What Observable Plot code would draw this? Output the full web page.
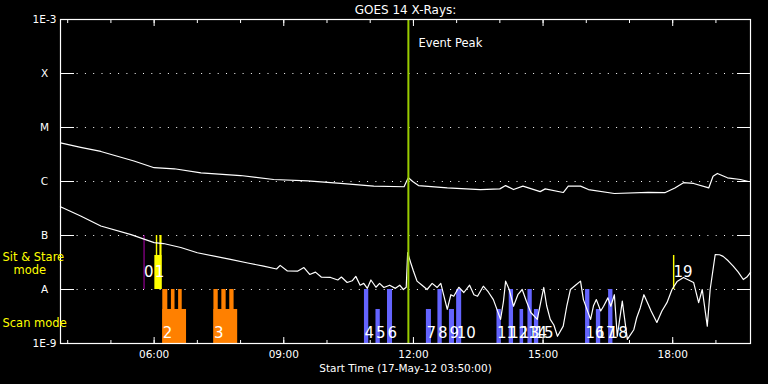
<!DOCTYPE html>
<html><head><meta charset="utf-8">
<script src="https://cdn.jsdelivr.net/npm/d3@7"></script>
<script src="https://cdn.jsdelivr.net/npm/@observablehq/plot@0.6"></script>
<style>
html,body{margin:0;padding:0;background:#000;}
</style></head><body><div id="chart"></div>
<script>
const day = "2012-05-17";
const startTime = "03:50", endTime = "19:48";
const peakTime = "11:53";

// GOES long channel (1-8 A)
const longTimes = ["03:50","04:18","04:46","05:32","06:00","06:28","07:05","08:00","08:46","09:33","10:19","11:05","11:47","11:51","11:53","11:59","12:07","12:47","13:33","14:00","14:08","14:19","14:32","14:56","15:03","15:28","15:35","15:52","16:03","16:39","17:26","17:49","18:03","18:15","18:29","18:50","18:56","19:02","19:16","19:34","19:45"];
const longFlux = [5.2e-6,4.3e-6,3.6e-6,2.4e-6,1.8e-6,1.72e-6,1.45e-6,1.29e-6,1.09e-6,1.03e-6,9.2e-7,8.2e-7,8.0e-7,1.04e-6,1.17e-6,1.0e-6,8.4e-7,7.6e-7,7.1e-7,7.3e-7,8.4e-7,7.1e-7,8.2e-7,6.5e-7,7.3e-7,6.25e-7,8.2e-7,8.2e-7,7.1e-7,6.0e-7,6.3e-7,6.2e-7,7.6e-7,9.5e-7,9.2e-7,7.6e-7,1.25e-6,1.41e-6,1.17e-6,1.09e-6,1.0e-6];

// GOES short channel (0.5-4 A)
const shortTimes = ["03:50","04:18","04:46","05:28","06:00","06:13","06:37","07:00","07:46","08:10","08:32","08:50","08:55","09:05","09:19","09:28","09:36","09:44","09:52","10:05","10:15","10:20","10:28","10:35","10:40","10:46","10:51","10:56","11:01","11:08","11:13","11:19","11:27","11:35","11:41","11:46","11:50","11:52","11:56","12:00","12:05","12:12","12:19","12:26","12:33","12:38","12:43","12:47","12:52","12:56","13:03","13:10","13:18","13:24","13:29","13:37","13:44","13:51","14:01","14:05","14:08","14:13","14:19","14:25","14:31","14:37","14:43","14:52","14:57","15:01","15:05","15:10","15:15","15:20","15:28","15:33","15:38","15:45","15:52","15:56","16:06","16:10","16:14","16:20","16:24","16:30","16:34","16:39","16:43","16:50","16:57","17:06","17:10","17:15","17:20","17:25","17:30","17:38","17:45","17:52","17:59","18:06","18:15","18:22","18:29","18:36","18:41","18:48","18:52","18:59","19:05","19:10","19:17","19:24","19:31","19:38","19:43","19:48"];
const shortFlux = [3.4e-7,2.3e-7,1.5e-7,1.04e-7,7.4e-8,7.1e-8,6.0e-8,4.8e-8,3.6e-8,3.1e-8,2.7e-8,2.4e-8,2.8e-8,2.2e-8,2.18e-8,2.55e-8,1.9e-8,2.1e-8,1.7e-8,1.67e-8,1.5e-8,1.7e-8,1.35e-8,1.45e-8,1.75e-8,1.2e-8,1.3e-8,1.05e-8,1.5e-8,1.1e-8,1.3e-8,1.09e-8,1.2e-8,1.05e-8,1.2e-8,1.0e-8,1.1e-8,4.8e-8,3.2e-8,2.2e-8,1.43e-8,1.2e-8,1.0e-8,1.3e-8,1.09e-8,1.3e-8,7e-9,4.3e-9,8e-9,7.5e-9,1.1e-8,8.8e-9,1.2e-8,8e-9,7.5e-9,1.15e-8,9e-9,6.5e-9,2.8e-9,6e-9,1.43e-8,1.0e-8,4.9e-9,8e-9,1.0e-8,6e-9,3.75e-9,2.8e-9,6e-9,1.09e-8,5e-9,2.8e-9,2.2e-9,1.36e-9,2.1e-9,5e-9,1.0e-8,1.2e-8,1.43e-8,6.5e-9,2.8e-9,5e-9,6.5e-9,4e-9,4.9e-9,7e-9,4.9e-9,8e-9,1.36e-9,6.1e-9,1.19e-9,1.8e-9,3e-9,4.6e-9,8e-9,5.7e-9,4e-9,2.45e-9,4e-9,5.7e-9,1.0e-8,1.4e-8,1.67e-8,1.5e-8,1.35e-8,5.7e-9,1.0e-8,2.1e-9,1.0e-8,4.45e-8,4.4e-8,4.1e-8,3.4e-8,2.7e-8,2.1e-8,1.53e-8,1.7e-8,2.07e-8];

// Observations: start, end, type, coverage
const obsStart = ["05:46","06:01","06:03","06:08","06:12","06:12","06:24","06:34","07:23","07:23","07:34","07:45","10:52","11:08","11:24","12:18","12:34","12:50","13:00","13:56","14:13","14:28","14:39","14:48","15:59","16:14","16:31","18:01"];
const obsEnd   = ["05:46","06:11","06:05","06:11","06:45","06:19","06:29","06:39","07:56","07:29","07:40","07:51","10:58","11:14","11:31","12:25","12:40","12:57","13:07","14:02","14:19","14:33","14:45","14:54","16:05","16:20","16:37","18:03"];
const obsType  = ["other","sit","sit","sit","scan","scan","scan","scan","scan","scan","scan","scan","scanB","scanB","scanB","scanB","scanB","scanB","scanB","scanB","scanB","scanB","scanB","scanB","scanB","scanB","scanB","sit"];
const obsLevel = ["full","partial","full","full","partial","full","full","full","partial","full","full","full","full","partial","full","partial","full","partial","full","partial","full","partial","full","partial","full","partial","full","partial"];

// Observation numbers
const labelText = ["0","1","2","3","4","5","6","7","8","9","10","11","12","13","14","15","16","17","18","19"];
const labelTime = ["05:46","06:01","06:12","07:23","10:52","11:08","11:24","12:18","12:34","12:50","13:00","13:56","14:13","14:28","14:39","14:48","15:59","16:14","16:31","18:01"];
const labelBand = ["sit","sit","scan","scan","scan","scan","scan","scan","scan","scan","scan","scan","scan","scan","scan","scan","scan","scan","scan","sit"];

// Y axis levels
const levelValues = [1e-3,1e-4,1e-5,1e-6,1e-7,1e-8,1e-9];
const levelLabels = ["1E-3","X","M","C","B","A","1E-9"];
const hourTicks = ["04:00","05:00","06:00","07:00","08:00","09:00","10:00","11:00","12:00","13:00","14:00","15:00","16:00","17:00","18:00","19:00"];
const majorTicks = ["06:00","09:00","12:00","15:00","18:00"];

const T = s => new Date(`${day}T${s}:00Z`);

const longData = longTimes.map((t,i)=>({t:T(t), v:longFlux[i]}));
const shortData = shortTimes.map((t,i)=>({t:T(t), v:shortFlux[i]}));

const typeColor = {other:"#b000b0", sit:"#ffff00", scan:"#ff8000", scanB:"#6464ff"};
const typeBand = {other:"sit", sit:"sit", scan:"scan", scanB:"scan"};
const bandBottom = {sit:1e-8, scan:1e-9};
const partialFrac = 0.63;
const obs = obsStart.map((s,i)=>{
  const band = typeBand[obsType[i]];
  const b = bandBottom[band];
  const top = obsLevel[i]==="full" ? b*10 : b*Math.pow(10, partialFrac);
  return {start:T(s), end:T(obsEnd[i]), bottom:b, top, color:typeColor[obsType[i]]};
});
const obsRects = obs.filter(d=>+d.end>+d.start);
const obsRules = obs.filter(d=>+d.end===+d.start);
const bandLabelY = {sit:1.67e-8, scan:1.24e-9};
const labels = labelText.map((s,i)=>({s, t:T(labelTime[i]), y:bandLabelY[labelBand[i]]}));

const inner = levelValues.slice(1,-1);
const font = "DejaVu Sans";

const chart = Plot.plot({
  width: 768, height: 384,
  marginLeft: 60, marginRight: 18, marginTop: 19, marginBottom: 41,
  style: {background:"#000", color:"#fff", fontFamily:font, fontSize:"10.5px"},
  x: {type:"utc", domain:[T(startTime), T(endTime)]},
  y: {type:"log", domain:[1e-9,1e-3]},
  marks: [
    Plot.gridY(inner, {stroke:"white", strokeOpacity:1, strokeDasharray:"1,7.3"}),
    Plot.axisY(inner, {anchor:"left", tickSize:-14, fill:"none", stroke:"white", label:null}),
    Plot.axisY(inner, {anchor:"right", tickSize:-14, fill:"none", stroke:"white", label:null}),
    Plot.axisY(levelValues, {anchor:"left", tickSize:0, tickPadding:16, textAnchor:"middle", fill:"white", fontSize:10.5,
      tickFormat: d => levelLabels[levelValues.indexOf(d)], label:null}),
    Plot.axisX(hourTicks.map(T), {anchor:"bottom", tickSize:-3, fill:"none", stroke:"white", label:null}),
    Plot.axisX(majorTicks.map(T), {anchor:"bottom", tickSize:-6, fill:"none", stroke:"white", label:null}),
    Plot.axisX(hourTicks.map(T), {anchor:"top", tickSize:-3, fill:"none", stroke:"white", label:null}),
    Plot.axisX(majorTicks.map(T), {anchor:"top", tickSize:-6, fill:"none", stroke:"white", label:null}),
    Plot.axisX(majorTicks.map(T), {anchor:"bottom", tickSize:0, tickPadding:7, fill:"white", fontSize:10.5,
      tickFormat: d3.utcFormat("%H:%M"), label:null}),
    Plot.rect(obsRects, {x1:"start", x2:"end", y1:"bottom", y2:"top", fill:"color"}),
    Plot.ruleX(obsRules, {x:"start", y1:"bottom", y2:"top", stroke:"color", strokeWidth:1}),
    Plot.line(longData, {x:"t", y:"v", stroke:"white", strokeWidth:1.2}),
    Plot.line(shortData, {x:"t", y:"v", stroke:"white", strokeWidth:1.2}),
    Plot.ruleX([T(peakTime)], {stroke:"#99cc00", strokeWidth:2}),
    Plot.text(["Event Peak"], {x: () => T(peakTime), frameAnchor:"top", lineAnchor:"middle", dy:24, dx:10, textAnchor:"start", fill:"white", fontSize:11.5}),
    Plot.text(labels, {x:"t", y:"y", text:"s", textAnchor:"start", lineAnchor:"bottom", fill:"white", fontSize:15}),
    Plot.frame({stroke:"white", strokeWidth:1.2}),
    Plot.text(["GOES 14 X-Rays:"], {frameAnchor:"top", lineAnchor:"middle", dy:-9, fill:"white", fontSize:12}),
    Plot.text(["Start Time (17-May-12 03:50:00)"], {frameAnchor:"bottom", lineAnchor:"middle", dy:25, fill:"white", fontSize:10.5}),
    Plot.text(["Sit & Stare"], {y: () => 3.9e-8, frameAnchor:"left", dx:-58, textAnchor:"start", fill:"#ffff00", fontSize:11.5}),
    Plot.text(["mode"], {y: () => 2.25e-8, frameAnchor:"left", dx:-47, textAnchor:"start", fill:"#ffff00", fontSize:11.5}),
    Plot.text(["Scan mode"], {y: () => 2.35e-9, frameAnchor:"left", dx:-58, textAnchor:"start", fill:"#ffff00", fontSize:11.5})
  ]
});
document.getElementById("chart").appendChild(chart);
</script></body></html>
